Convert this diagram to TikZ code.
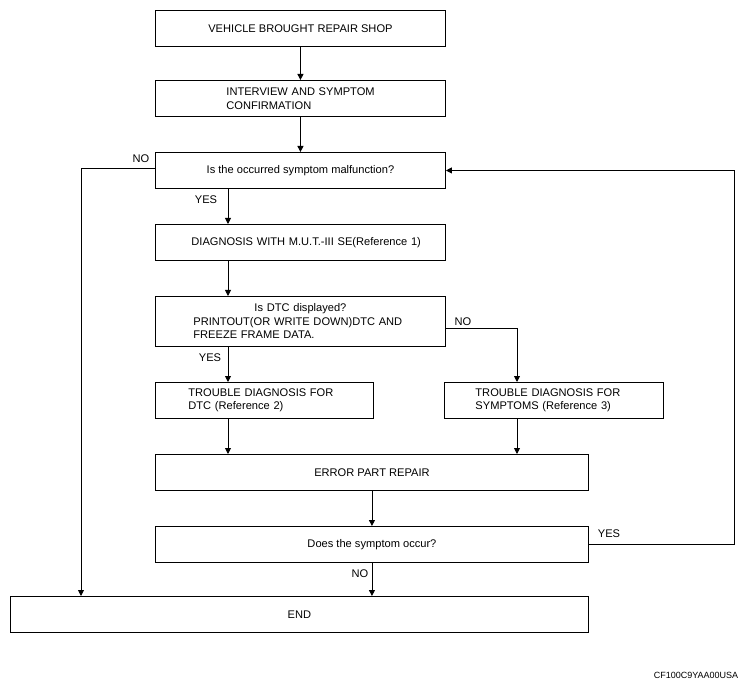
\documentclass[tikz,border=0pt]{standalone}
\usepackage{fontspec}
\setmainfont{Liberation Sans}
\usetikzlibrary{arrows.meta}

\begin{document}
\begin{tikzpicture}[x=1pt, y=-1pt, line width=0.9pt, every node/.style={font=\fontsize{11.1}{13.5}\selectfont}, box/.style={draw, line width=0.9pt, anchor=north west, inner sep=0pt, minimum height=36pt}, lbox/.style={box, text width=#1, align=left}, arr/.style={-{Triangle[length=6pt,width=6pt]}}, lbl/.style={inner sep=0pt}]
	\useasboundingbox (0,0) rectangle (750,687);
	\node[box, minimum width=290pt] (veh) at (155,10) {VEHICLE BROUGHT REPAIR SHOP};
	\node[lbox=290pt] (intv) at (155,80) {\hspace*{71pt}INTERVIEW AND SYMPTOM\\\hspace*{71pt}CONFIRMATION};
	\node[box, minimum width=290pt] (malf) at (155,152) {Is the occurred symptom malfunction?};
	\node[lbox=290pt] (diag) at (155,224) {\hspace*{36pt}DIAGNOSIS WITH M.U.T.-III SE(Reference 1)};
	\node[lbox=290pt, minimum height=50pt] (dtc) at (155,296) {{\centering Is DTC displayed?\par}\hspace*{38pt}PRINTOUT(OR WRITE DOWN)DTC AND\\\hspace*{38pt}FREEZE FRAME DATA.};
	\node[lbox=218pt] (trdtc) at (155,382) {\hspace*{33pt}TROUBLE DIAGNOSIS FOR\\\hspace*{33pt}DTC (Reference 2)};
	\node[lbox=219pt] (trsym) at (444,382) {\hspace*{31pt}TROUBLE DIAGNOSIS FOR\\\hspace*{31pt}SYMPTOMS (Reference 3)};
	\node[box, minimum width=433pt] (repair) at (155,454) {ERROR PART REPAIR};
	\node[box, minimum width=433pt] (occur) at (155,526) {Does the symptom occur?};
	\node[box, minimum width=578pt] (fin) at (10,596) {END};
	\coordinate (lx) at (228,0); \coordinate (rx) at (517,0);
	\coordinate (nx) at (81,0); \coordinate (loop) at (734,0);
	\foreach \a/\b in {veh/intv, intv/malf, repair/occur} {\draw[arr] (\a) -- (\b);}
	\foreach \a/\b in {malf/diag, diag/dtc, dtc/trdtc, trdtc/repair} {\draw[arr] (\a.south -| lx) -- (\b.north -| lx);}
	\draw[arr] (trsym.south -| rx) -- (repair.north -| rx);
	\draw[arr] ([yshift=-7pt]dtc.east) -| (trsym.north -| rx);
	\draw[arr] ([yshift=2pt]malf.west) -| (fin.north -| nx);
	\draw[arr] (occur.south) -- (occur.south |- fin.north);
	\draw[arr] (occur.east) -| (loop |- malf.east) -- (malf.east);
	\node[lbl] (no1) at (141,159) {NO};
	\node[lbl] (yes1) at (206,200) {YES};
	\node[lbl] (no2) at (463,322) {NO};
	\node[lbl] (yes2) at (210,358) {YES};
	\node[lbl] (yes3) at (609,534) {YES};
	\node[lbl] (no3) at (360,574) {NO};
	\node[lbl, font=\fontsize{9}{10}\selectfont] (code) at (696,675) {CF100C9YAA00USA};
\end{tikzpicture}
\end{document}
